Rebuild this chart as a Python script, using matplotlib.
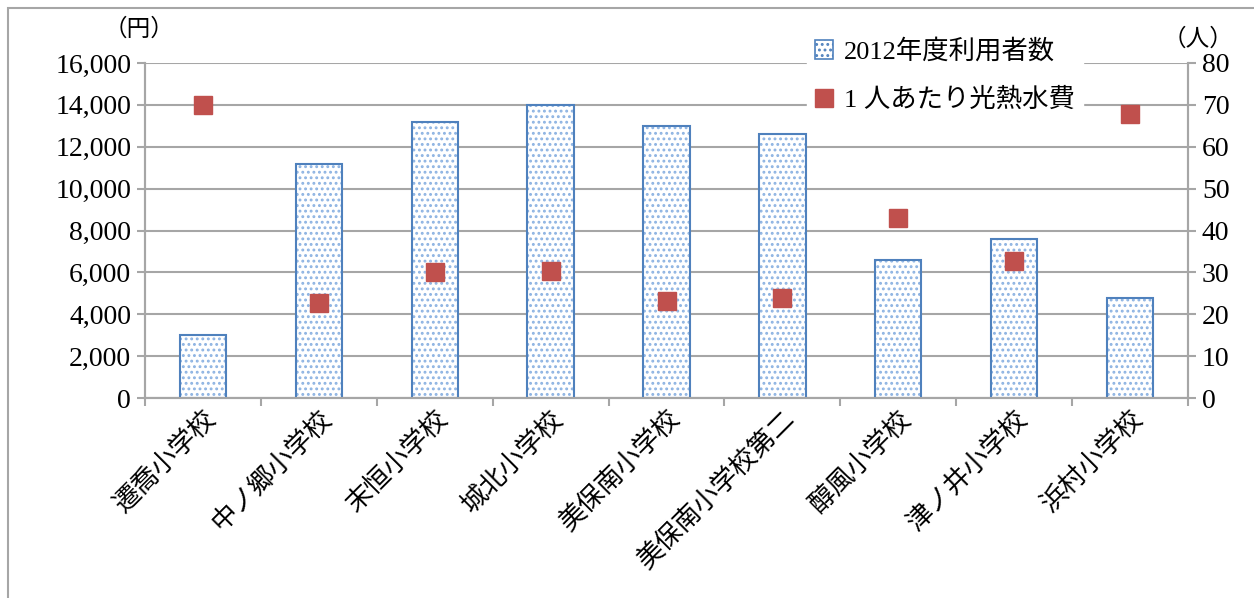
import matplotlib
matplotlib.use("Agg")
from matplotlib import pyplot as plt
from matplotlib.patches import Rectangle, Patch
from matplotlib.lines import Line2D
import numpy as np

fonts = ['Liberation Serif', 'Noto Sans CJK JP']
plt.rcParams['font.family'] = fonts
plt.rcParams['hatch.linewidth'] = 1.3

# データ
schools = ['遷喬小学校', '中ノ郷小学校', '末恒小学校', '城北小学校', '美保南小学校',
           '美保南小学校第二', '醇風小学校', '津ノ井小学校', '浜村小学校']
users = [3000, 11200, 13200, 14000, 13000, 12600, 6600, 7600, 4800]
cost = [70, 22.7, 30.1, 30.3, 23.2, 23.9, 43.0, 32.7, 67.8]
left_ticks = np.arange(0, 16001, 2000)
right_ticks = np.arange(0, 81, 10)

grid_c = '#A6A6A6'
bar_c = '#4F81BD'
sq_c = '#C0504D'

fig = plt.figure(figsize=(12.54, 5.98), dpi=100)
fig.patches.append(Rectangle((8 / 1254, -0.1), 1.2, 1.1 - 8 / 598,
                             transform=fig.transFigure, fill=False,
                             edgecolor='#A6A6A6', linewidth=1.5))

ax = fig.add_axes([145 / 1254, 1 - 398 / 598, (1188 - 145) / 1254, (398 - 63) / 598])
x = np.arange(len(schools))

# 棒（ドット柄）
ax.bar(x, users, width=0.4, color='white', edgecolor='#8DB3E2', hatch='...',
       linewidth=0, zorder=2)
ax.bar(x, users, width=0.4, fill=False, edgecolor=bar_c, linewidth=1.5, zorder=3)

ax.set_ylim(0, 16000)
ax.set_xlim(-0.5, len(schools) - 0.5)
ax.set_yticks(left_ticks)
ax.set_yticklabels([f'{v:,}' for v in left_ticks], fontsize=20)
ax.yaxis.grid(True, color=grid_c, linewidth=1.5, zorder=0)
ax.set_axisbelow(True)
ax.set_xticks(x)
ax.set_xticklabels(schools, rotation=45, ha='right', rotation_mode='anchor', fontsize=19)
ax.set_xticks(np.arange(-0.5, len(schools)), minor=True)
ax.tick_params(axis='x', which='major', length=0, pad=6)
ax.tick_params(axis='x', which='minor', length=6, color=grid_c, width=1.5)
ax.tick_params(axis='y', length=6, color=grid_c, width=1.5, pad=4)
for s in ax.spines.values():
    s.set_color(grid_c)
    s.set_linewidth(1.5)
ax.spines['top'].set_visible(False)

# 右軸
ax2 = ax.twinx()
ax2.plot(x, cost, linestyle='none', marker='s', markersize=13, color=sq_c, zorder=5)
ax2.set_ylim(0, 80)
ax2.set_yticks(right_ticks)
ax2.set_yticklabels([str(v) for v in right_ticks], fontsize=20)
ax2.tick_params(axis='y', length=6, color=grid_c, width=1.5, pad=4)
for s in ax2.spines.values():
    s.set_color(grid_c)
    s.set_linewidth(1.5)
ax2.spines['top'].set_visible(False)

fig.text(104 / 1254, 1 - 30 / 598, '（円）', fontsize=17, ha='left', va='center')
fig.text(1163 / 1254, 1 - 40 / 598, '（人）', fontsize=17, ha='left', va='center')

handles = [Patch(facecolor='white', edgecolor=bar_c, hatch='...', linewidth=1.2),
           Line2D([], [], linestyle='none', marker='s', markersize=13, color=sq_c)]
leg = ax2.legend(handles, ['2012年度利用者数', '1 人あたり光熱水費'],
                 loc='upper left', bbox_to_anchor=(0.622, 1.135), frameon=True,
                 fontsize=19, handlelength=0.7, handletextpad=0.4,
                 borderpad=0.3, labelspacing=0.9)
leg.get_frame().set_edgecolor('white')
leg.get_frame().set_facecolor('white')
leg.get_frame().set_alpha(1)

fig.savefig('out.png', dpi=100)
